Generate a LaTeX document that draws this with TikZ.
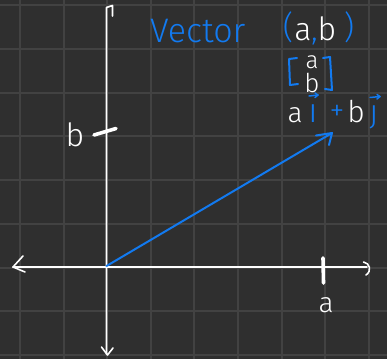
\documentclass[tikz,border=0pt]{standalone}
\usepackage{fontspec}
\newfontfamily\hand{Fira Sans Light}
\definecolor{bg}{RGB}{47,47,47}
\definecolor{gridc}{RGB}{66,66,66}
\definecolor{vblue}{RGB}{18,122,240}
\begin{document}
\begin{tikzpicture}[x=1pt,y=-1pt,
  axis/.style={white, line width=1.6pt, line cap=round, line join=round},
  tickmark/.style={white, line width=3.6pt, line cap=round},
  bluestroke/.style={vblue, line width=2pt, line cap=round, line join=round},
  txt/.style={inner sep=0pt, anchor=base, font=\hand\fontsize{#1}{#1}\selectfont},
  wtxt/.style={txt=#1, text=white},
  btxt/.style={txt=#1, text=vblue}]
\fill[bg] (0,0) rectangle (387,359);
\useasboundingbox (0,0) rectangle (387,359);
\foreach \i in {0,...,8} {\draw[gridc, line width=2pt] ({20+43.6*\i},0) -- ({20+43.6*\i},359);}
\foreach \j in {0,...,8} {\draw[gridc, line width=2pt] (0,{5+43.75*\j}) -- (387,{5+43.75*\j});}
% axes
\coordinate (O) at (106.5,266);
\coordinate (yt) at (106.5,7.5);
\coordinate (yb) at (106.5,354);
\coordinate (xl) at (13,267);
\coordinate (xr) at (367,267);
\draw[axis] (yb) -- (yt) -- (112.5,5.5) -- (112.5,16);
\draw[axis] (101.5,347) -- (107.5,355) -- (113,348);
\draw[axis] (xl) -- (xr);
\draw[axis] (23,256) -- (xl) -- (25,272);
\draw[axis] (363.5,262) .. controls (370,263) and (372,271) .. (366,275);
% ticks
\draw[tickmark] (323,258) -- (323.5,283);
\draw[tickmark] (94,135) .. controls (105,131) .. (116,128.5);
% vector
\coordinate (V) at (332,133);
\draw[bluestroke] (O) -- (V);
\draw[bluestroke] (316,135.5) -- (V) -- (329,145);
% labels on axes
\node[wtxt=32] (lb) at (75,146) {b};
\node[wtxt=28] (la) at (326,312) {a};
% Vector (a, b)
\node[btxt=34, anchor=base west] (vec) at (150,42) {Vector};
\node[btxt=32] (lp) at (288,38) {(};
\node[wtxt=32] (pa) at (303,40) {a};
\node[btxt=30] (pc) at (314.5,40.5) {,};
\node[wtxt=32] (pb) at (327,40) {b};
\node[btxt=32] (rp) at (349,38) {)};
% matrix
\draw[bluestroke] (297,58) -- (289,59) -- (290,85) -- (298,84);
\draw[bluestroke] (323,58) -- (330,57) -- (332,90) -- (325,89);
\node[wtxt=24] (ma) at (312,68) {a};
\node[wtxt=26] (mb) at (312,92) {b};
% a i + b j
\node[wtxt=28] (ea) at (295,122) {a};
\node[btxt=34] (ei) at (313,122) {ı};
\node[btxt=30] (ep) at (337,120) {+};
\node[wtxt=30] (eb) at (356,122) {b};
\node[btxt=32] (ej) at (374,122) {ȷ};
\draw[bluestroke, line width=1.5pt] (309,96) -- (318,95);
\draw[bluestroke, line width=1.5pt] (315,93) -- (318,95) -- (315,97.5);
\draw[bluestroke, line width=1.5pt] (370,97.5) -- (380,96.5);
\draw[bluestroke, line width=1.5pt] (377,94.5) -- (380,96.5) -- (377,99);
\end{tikzpicture}
\end{document}
